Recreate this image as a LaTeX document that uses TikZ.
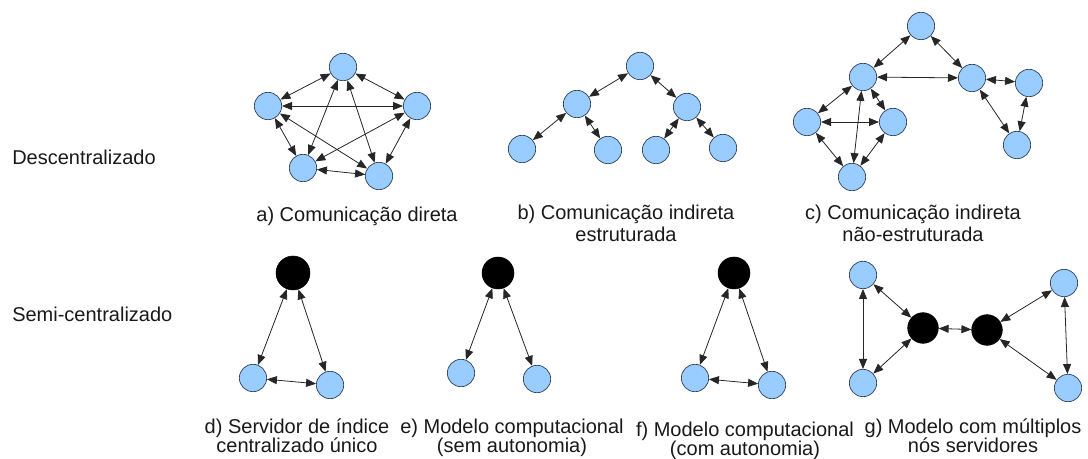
\documentclass[tikz,border=0pt]{standalone}
\usepackage{fontspec}
\setmainfont{Liberation Sans}
\usetikzlibrary{arrows.meta}
\definecolor{nodeblue}{RGB}{153,204,255}
\definecolor{nodeedge}{RGB}{45,60,85}
\tikzset{
  bluenode/.style={circle, fill=nodeblue, draw=nodeedge, line width=0.5pt, minimum size=20.5pt, inner sep=0pt},
  servnode/.style={circle, fill=black, draw=black, minimum size=24pt, inner sep=0pt},
  link/.style={draw=black!85, line width=0.6pt, {Triangle[length=7.5pt,width=6pt]}-{Triangle[length=7.5pt,width=6pt]}},
  lbl/.style={anchor=base, inner sep=0pt, text=black!90, font=\fontsize{15pt}{16pt}\selectfont},
  side/.style={anchor=base west, inner sep=0pt, text=black!90, font=\fontsize{15pt}{16pt}\selectfont}
}
\begin{document}
\begin{tikzpicture}[x=0.75pt, y=-0.75pt]
\useasboundingbox (0,0) rectangle (1088,459);
% row labels
\node[side] (tD) at (12,165) {Descentralizado};
\node[side] (tS) at (12,322) {Semi-centralizado};
% a) direct communication
\node[bluenode] (aT) at (343,67) {};
\node[bluenode] (aL) at (268,106) {};
\node[bluenode] (aR) at (417,106) {};
\node[bluenode] (aBL) at (303,168) {};
\node[bluenode] (aBR) at (379,176) {};
\foreach \p/\q in {aT/aL, aT/aR, aL/aR, aL/aBL, aR/aBR, aBL/aBR, aT/aBL, aT/aBR, aL/aBR, aR/aBL}
  \draw[link] (\p) -- (\q);
% b) structured
\node[bluenode] (bT) at (640,66) {};
\node[bluenode] (bL) at (577,104) {};
\node[bluenode] (bR) at (687,107) {};
\node[bluenode] (b1) at (522,149) {};
\node[bluenode] (b2) at (608,150) {};
\node[bluenode] (b3) at (656,150) {};
\node[bluenode] (b4) at (723,148) {};
\foreach \p/\q in {bT/bL, bT/bR, bL/b1, bL/b2, bR/b3, bR/b4}
  \draw[link] (\p) -- (\q);
% c) unstructured
\node[bluenode] (cT) at (921,26) {};
\node[bluenode] (cA) at (863,77) {};
\node[bluenode] (cB) at (972,78) {};
\node[bluenode] (cC) at (1029,83) {};
\node[bluenode] (cD) at (1017,145) {};
\node[bluenode] (cE) at (807,122) {};
\node[bluenode] (cF) at (893,122) {};
\node[bluenode] (cG) at (852,177) {};
\foreach \p/\q in {cT/cA, cT/cB, cA/cB, cB/cC, cB/cD, cC/cD, cA/cE, cA/cF, cA/cG, cE/cF, cE/cG, cF/cG}
  \draw[link] (\p) -- (\q);
% d)
\node[servnode, minimum size=25.5pt] (dS) at (293,273) {};
\node[bluenode] (d1) at (253,378) {};
\node[bluenode] (d2) at (330,385) {};
\foreach \p/\q in {dS/d1, dS/d2, d1/d2}
  \draw[link] (\p) -- (\q);
% e)
\node[servnode] (eS) at (498,273) {};
\node[bluenode] (e1) at (461,373) {};
\node[bluenode] (e2) at (537,379) {};
\foreach \p/\q in {eS/e1, eS/e2}
  \draw[link] (\p) -- (\q);
% f)
\node[servnode] (fS) at (734,273) {};
\node[bluenode] (f1) at (695,378) {};
\node[bluenode] (f2) at (772,385) {};
\foreach \p/\q in {fS/f1, fS/f2, f1/f2}
  \draw[link] (\p) -- (\q);
% g)
\node[bluenode] (gTL) at (863,275) {};
\node[bluenode] (gBL) at (863,383) {};
\node[servnode, minimum size=23pt] (gSL) at (923,328) {};
\node[servnode, minimum size=23pt] (gSR) at (987,330) {};
\node[bluenode] (gTR) at (1064,283) {};
\node[bluenode] (gBR) at (1068,388) {};
\foreach \p/\q in {gTL/gBL, gTL/gSL, gBL/gSL, gSL/gSR, gSR/gTR, gSR/gBR, gTR/gBR}
  \draw[link] (\p) -- (\q);
% captions row 1
\node[lbl] (la) at (357,222) {a) Comunicação direta};
\node[lbl] (lb1) at (626,220) {b) Comunicação indireta};
\node[lbl] (lb2) at (626,242) {estruturada};
\node[lbl] (lc1) at (913,220) {c) Comunicação indireta};
\node[lbl] (lc2) at (913,242) {não-estruturada};
% captions row 2
\node[lbl] (ld1) at (297,433) {d) Servidor de índice};
\node[lbl] (ld2) at (297,452) {centralizado único};
\node[lbl] (le1) at (512,433) {e) Modelo computacional};
\node[lbl] (le2) at (512,452) {(sem autonomia)};
\node[lbl] (lf1) at (745,436) {f) Modelo computacional};
\node[lbl] (lf2) at (745,455) {(com autonomia)};
\node[lbl] (lg1) at (973,433) {g) Modelo com múltiplos};
\node[lbl] (lg2) at (973,452) {nós servidores};
\end{tikzpicture}
\end{document}
